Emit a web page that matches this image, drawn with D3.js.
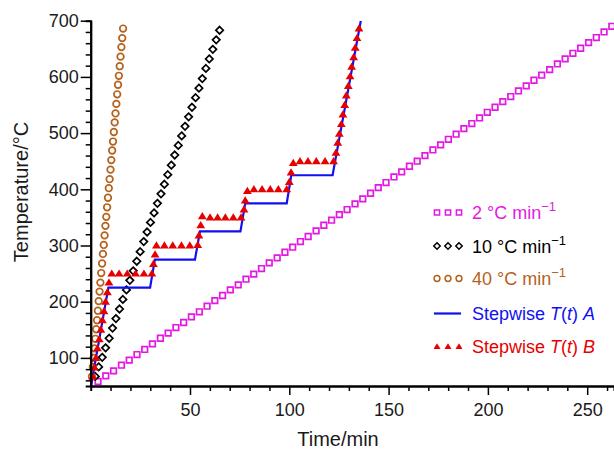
<!DOCTYPE html>
<html>
<head>
<meta charset="utf-8">
<script src="https://cdn.jsdelivr.net/npm/d3@7"></script>
<style>
  html, body { margin: 0; padding: 0; background: #fff; }
  svg { display: block; font-family: "Liberation Sans", Arial, sans-serif; }
</style>
</head>
<body>
<svg id="chart" width="614" height="449"></svg>
<script>
// ---- data (time in min, temperature in °C) ----
const rate2_t = [3.7,7.6,11.5,15.5,19.4,23.3,27.2,31.1,35.1,39.0,42.9,46.8,50.7,54.7,58.6,62.5,66.4,70.3,74.3,78.2,82.1,86.0,89.9,93.9,97.8,101.7,105.6,109.5,113.5,117.4,121.3,125.2,129.1,133.1,137.0,140.9,144.8,148.7,152.7,156.6,160.5,164.4,168.3,172.3,176.2,180.1,184.0,187.9,191.9,195.8,199.7,203.6,207.5,211.5,215.4,219.3,223.2,227.1,231.1,235.0,238.9,242.8,246.7,250.7,254.6,258.5,262.4];
const rate2_T = [58,68,77,87,96,106,115,125,135,144,154,163,173,182,192,202,211,221,230,240,249,259,269,278,288,297,307,316,326,336,345,355,364,374,383,393,403,412,422,431,441,450,460,470,479,489,498,508,517,527,537,546,556,565,575,584,594,603,613,623,632,642,651,661,670,680,690];

const rate10_t = [2.3,4.0,5.8,7.5,9.3,11.0,12.7,14.5,16.2,18.0,19.7,21.4,23.2,24.9,26.7,28.4,30.1,31.9,33.6,35.4,37.1,38.8,40.6,42.3,44.1,45.8,47.5,49.3,51.0,52.8,54.5,56.2,58.0,59.7,61.5,63.2,64.9];
const rate10_T = [67,84,101,118,135,153,170,187,204,221,238,255,272,289,307,324,341,358,375,392,409,426,443,461,478,495,512,529,546,563,580,597,615,632,649,666,683];

const rate40_t = [0.65,1.07,1.50,1.92,2.34,2.77,3.19,3.61,4.03,4.46,4.88,5.30,5.73,6.15,6.57,7.00,7.42,7.84,8.26,8.69,9.11,9.53,9.96,10.38,10.80,11.23,11.65,12.07,12.49,12.92,13.34,13.76,14.19,14.61,15.03,15.46,15.88,16.30];
const rate40_T = [67,84,100,117,134,151,167,184,201,218,234,251,268,285,301,318,335,351,368,385,402,418,435,452,469,485,502,519,535,552,569,586,602,619,636,653,669,686];

const stepA_t = [0,8.9,29.9,32.3,52.5,55.0,75.4,77.8,98.7,101.0,121.8,136.0];
const stepA_T = [47,225,225,275,275,325,325,375,375,425,425,700];

const stepB_t = [1.0,1.8,2.6,3.4,4.3,5.1,5.9,6.7,7.5,8.4,9.2,
  10.6,14.3,18.4,22.6,26.8,30.8,31.6,32.4,
  33.1,37.1,41.3,45.7,49.9,53.9,54.5,55.4,
  56.2,60.1,63.9,67.8,71.8,75.7,77.2,77.8,
  78.9,82.2,86.3,90.4,94.5,98.7,100.0,100.9,
  102.0,105.4,109.4,113.6,118.0,122.3,
  123.5,124.4,125.2,126.2,127.0,127.9,128.7,129.7,130.6,131.4,132.4,133.2,134.1,135.1];
const stepB_T = [67,83,100,117,133,150,167,183,200,217,234,
  250,250,250,250,250,250,267,284,
  300,300,300,300,300,301,318,336,
  352,350,350,350,350,350,364,380,
  397,400,400,400,400,400,413,430,
  447,450,450,450,450,450,
  465,483,499,516,533,550,567,584,601,618,635,652,669,686];

const xMajor = [50,100,150,200,250];
const xMinor = [10,20,30,40,60,70,80,90,110,120,130,140,160,170,180,190,210,220,230,240,260];
const yMajor = [100,200,300,400,500,600,700];
const yMinor = [60,80,120,140,160,180,220,240,260,280,320,340,360,380,420,440,460,480,520,540,560,580,620,640,660,680];

const legendItems = [
  {key: "rate2", label: ["2 °C min", "−1"], color: "#e318e3"},
  {key: "rate10", label: ["10 °C min", "−1"], color: "#000000"},
  {key: "rate40", label: ["40 °C min", "−1"], color: "#b5621c"},
  {key: "stepA", label: "A", color: "#1010f0"},
  {key: "stepB", label: "B", color: "#e60000"}
];

// ---- drawing ----
const svg = d3.select("#chart");
const L = 90.7, R = 614, T = 20.7, B = 386;
const x = d3.scaleLinear().domain([0, 263.5]).range([L, R]);
const y = d3.scaleLinear().domain([50, 700]).range([B, T]);

const zip = (a, b) => a.map((v, i) => [v, b[i]]);
const colors = {};
legendItems.forEach(d => colors[d.key] = d.color);

svg.append("defs").append("clipPath").attr("id", "clip")
  .append("rect").attr("x", L).attr("y", T).attr("width", R - L).attr("height", B - T);

// marker shapes
const shapes = {
  square: s => `M${-s},${-s}H${s}V${s}H${-s}Z`,
  diamond: s => `M0,${-s}L${s},0L0,${s}L${-s},0Z`,
  triangle: s => `M0,${-s*1.05}L${s*1.1},${s*0.75}L${-s*1.1},${s*0.75}Z`
};

const g = svg.append("g");

// 2 °C/min squares
g.append("g").selectAll("path").data(zip(rate2_t, rate2_T)).join("path")
  .attr("d", shapes.square(2.8))
  .attr("transform", d => `translate(${x(d[0])},${y(d[1])})`)
  .attr("fill", "none").attr("stroke", colors.rate2).attr("stroke-width", 1.7);

// 10 °C/min diamonds
g.append("g").selectAll("path").data(zip(rate10_t, rate10_T)).join("path")
  .attr("d", shapes.diamond(3.7))
  .attr("transform", d => `translate(${x(d[0])},${y(d[1])})`)
  .attr("fill", "none").attr("stroke", colors.rate10).attr("stroke-width", 1.7);

// 40 °C/min circles
g.append("g").selectAll("circle").data(zip(rate40_t, rate40_T)).join("circle")
  .attr("cx", d => x(d[0])).attr("cy", d => y(d[1])).attr("r", 3.3)
  .attr("fill", "none").attr("stroke", colors.rate40).attr("stroke-width", 1.7);

// Stepwise A line
g.append("path").datum(zip(stepA_t, stepA_T))
  .attr("clip-path", "url(#clip)")
  .attr("d", d3.line().x(d => x(d[0])).y(d => y(d[1])))
  .attr("fill", "none").attr("stroke", colors.stepA).attr("stroke-width", 2.2);

// Stepwise B triangles
g.append("g").selectAll("path").data(zip(stepB_t, stepB_T)).join("path")
  .attr("d", shapes.triangle(4.0))
  .attr("transform", d => `translate(${x(d[0])},${y(d[1])})`)
  .attr("fill", colors.stepB);

// ---- axes ----
const axisStyle = sel => {
  sel.select(".domain").attr("stroke", "#000").attr("stroke-width", 2);
  sel.selectAll(".tick line").attr("stroke", "#000").attr("stroke-width", 1.5);
  sel.selectAll(".tick text").attr("fill", "#1a1a1a").style("font-size", "18px")
    .style("font-family", "'Liberation Sans', Arial, sans-serif");
};

const xAxisG = svg.append("g").attr("transform", `translate(0,${B})`);
xAxisG.append("g").call(d3.axisBottom(x).tickValues(xMinor).tickSize(5).tickFormat(""))
  .call(axisStyle);
xAxisG.append("g").call(d3.axisBottom(x).tickValues(xMajor).tickSize(9).tickSizeOuter(0).tickPadding(8).tickFormat(d3.format("d")))
  .call(axisStyle);

const yAxisG = svg.append("g").attr("transform", `translate(${L},0)`);
yAxisG.append("g").call(d3.axisLeft(y).tickValues(yMinor).tickSize(5).tickFormat(""))
  .call(axisStyle);
yAxisG.append("g").call(d3.axisLeft(y).tickValues(yMajor).tickSize(10).tickSizeOuter(0).tickPadding(2).tickFormat(d3.format("d")))
  .call(axisStyle);

// axis titles
svg.append("text").attr("x", 338).attr("y", 446).attr("text-anchor", "middle")
  .style("font-size", "20px").attr("fill", "#1a1a1a").text("Time/min");
svg.append("text").attr("transform", "translate(28,192) rotate(-90)").attr("text-anchor", "middle")
  .style("font-size", "20px").attr("fill", "#1a1a1a").text("Temperature/°C");

// ---- legend ----
const legendRowsY = [219, 252.5, 285, 320, 353];
const leg = svg.append("g");
legendItems.forEach((item, i) => {
  const by = legendRowsY[i];
  const sy = by - 6.5;
  const row = leg.append("g");
  const xs = [437, 448, 459];
  if (item.key === "rate2") {
    xs.forEach(sx => row.append("path").attr("d", shapes.square(2.6)).attr("transform", `translate(${sx},${sy})`)
      .attr("fill", "none").attr("stroke", item.color).attr("stroke-width", 1.5));
  } else if (item.key === "rate10") {
    xs.forEach(sx => row.append("path").attr("d", shapes.diamond(3.2)).attr("transform", `translate(${sx},${sy})`)
      .attr("fill", "none").attr("stroke", item.color).attr("stroke-width", 1.5));
  } else if (item.key === "rate40") {
    xs.forEach(sx => row.append("circle").attr("cx", sx).attr("cy", sy).attr("r", 2.9)
      .attr("fill", "none").attr("stroke", item.color).attr("stroke-width", 1.5));
  } else if (item.key === "stepA") {
    row.append("line").attr("x1", 434).attr("x2", 461).attr("y1", sy).attr("y2", sy)
      .attr("stroke", item.color).attr("stroke-width", 2.2);
  } else {
    xs.forEach(sx => row.append("path").attr("d", shapes.triangle(3.2)).attr("transform", `translate(${sx},${sy})`)
      .attr("fill", item.color));
  }
  const t = row.append("text").attr("x", 472).attr("y", by).attr("fill", item.color).style("font-size", "18px");
  if (Array.isArray(item.label)) {
    t.append("tspan").text(item.label[0]);
    t.append("tspan").attr("dy", -8).style("font-size", "13px").text(item.label[1]);
  } else {
    t.append("tspan").text("Stepwise ");
    t.append("tspan").style("font-style", "italic").text("T");
    t.append("tspan").text("(");
    t.append("tspan").style("font-style", "italic").text("t");
    t.append("tspan").text(") ");
    t.append("tspan").style("font-style", "italic").text(item.label);
  }
});
</script>
</body>
</html>
